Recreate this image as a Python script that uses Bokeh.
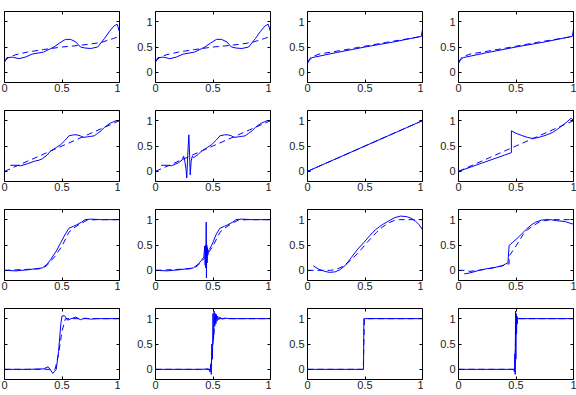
from bokeh.plotting import figure
from bokeh.layouts import column, row
from bokeh.models import Range1d, LinearAxis, FixedTicker
from bokeh.embed import file_html
from bokeh.resources import INLINE

tick_vals = [0, 0.5, 1]
tick_labels = ["0", "0.5", "1"]

# Row 1, cols 1-2
a_sx = [0, 0.02, 0.07, 0.125, 0.18, 0.24, 0.34, 0.43, 0.48, 0.53, 0.575, 0.62, 0.66, 0.7, 0.75, 0.81, 0.87, 0.91, 0.95, 0.98, 1.0]
a_sy = [0.2, 0.29, 0.3, 0.27, 0.3, 0.36, 0.4, 0.5, 0.58, 0.65, 0.65, 0.6, 0.5, 0.48, 0.47, 0.5, 0.67, 0.8, 0.91, 0.95, 0.8]
a_dx = [0, 0.04, 0.1, 0.2, 0.34, 0.5, 0.6, 0.72, 0.84, 0.95, 1.0]
a_dy = [0.22, 0.3, 0.35, 0.4, 0.45, 0.5, 0.52, 0.55, 0.59, 0.67, 0.71]

# Row 1, cols 3-4
b_sx = [0, 0.015, 0.04, 0.25, 0.5, 0.75, 0.99, 1.0]
b_sy = [0.17, 0.24, 0.29, 0.39, 0.5, 0.6, 0.71, 0.85]
b_dx = [0, 0.03, 0.1, 0.39, 0.68, 1.0]
b_dy = [0.2, 0.3, 0.36, 0.47, 0.59, 0.71]

# Row 2, col 1
c_sx = [0.05, 0.1, 0.14, 0.2, 0.26, 0.3, 0.33, 0.37, 0.4, 0.45, 0.49, 0.53, 0.56, 0.6, 0.63, 0.66, 0.68, 0.72, 0.75, 0.78, 0.81, 0.84, 0.87, 0.9, 0.92, 0.95, 0.97, 1.0]
c_sy = [0.12, 0.12, 0.11, 0.15, 0.2, 0.22, 0.25, 0.32, 0.4, 0.47, 0.53, 0.62, 0.7, 0.72, 0.72, 0.7, 0.67, 0.68, 0.69, 0.7, 0.75, 0.8, 0.87, 0.92, 0.95, 0.98, 1.0, 1.0]
c_dx = [0, 1]
c_dy = [0, 1]

# Row 2, col 2
d_sx = [0.05, 0.1, 0.14, 0.2, 0.23, 0.245, 0.255, 0.265, 0.272, 0.28, 0.29, 0.297, 0.302, 0.31, 0.32, 0.33, 0.37, 0.4, 0.45, 0.49, 0.53, 0.56, 0.6, 0.63, 0.66, 0.68, 0.72, 0.75, 0.78, 0.81, 0.84, 0.87, 0.9, 0.92, 0.95, 0.97, 1.0]
d_sy = [0.12, 0.12, 0.11, 0.17, 0.22, 0.3, 0.2, 0.05, -0.13, 0.3, 0.72, 0.3, -0.07, 0.2, 0.3, 0.27, 0.33, 0.4, 0.47, 0.53, 0.62, 0.7, 0.72, 0.72, 0.7, 0.67, 0.68, 0.69, 0.7, 0.75, 0.8, 0.87, 0.92, 0.95, 0.98, 1.0, 1.0]
d_dx = [0, 1]
d_dy = [0, 1]

# Row 2, col 3
e_sx = [0, 1]
e_sy = [0, 1]
e_dx = [0, 1]
e_dy = [0, 1]

# Row 2, col 4
f_sx = [0, 0.1, 0.2, 0.3, 0.4, 0.46, 0.46, 0.5, 0.56, 0.6, 0.64, 0.68, 0.73, 0.78, 0.82, 0.86, 0.9, 0.94, 0.98, 1.0]
f_sy = [0, 0.08, 0.16, 0.24, 0.32, 0.37, 0.8, 0.75, 0.7, 0.67, 0.65, 0.66, 0.69, 0.73, 0.77, 0.83, 0.9, 0.97, 1.05, 1.0]
f_dx = [0, 1]
f_dy = [0, 1]

# Row 3, col 1
g_sx = [0, 0.1, 0.2, 0.3, 0.33, 0.37, 0.4, 0.45, 0.49, 0.53, 0.56, 0.6, 0.63, 0.67, 0.7, 0.75, 0.84, 1.0]
g_sy = [0, -0.01, 0.01, 0.04, 0.05, 0.12, 0.21, 0.38, 0.55, 0.72, 0.83, 0.87, 0.9, 0.95, 1.0, 1.01, 1.0, 1.0]
g_dx = [0, 0.3, 0.34, 0.37, 0.44, 0.5, 0.56, 0.6, 0.66, 0.72, 0.8, 1.0]
g_dy = [0, 0.03, 0.05, 0.1, 0.28, 0.48, 0.75, 0.83, 0.92, 0.99, 1.0, 1.0]

# Row 3, col 2
h_sx = [0, 0.1, 0.2, 0.3, 0.33, 0.37, 0.4, 0.42, 0.428, 0.432, 0.435, 0.438, 0.441, 0.443, 0.446, 0.449, 0.452, 0.455, 0.46, 0.47, 0.49, 0.53, 0.56, 0.6, 0.63, 0.67, 0.7, 0.75, 0.84, 1.0]
h_sy = [0, -0.01, 0.01, 0.04, 0.05, 0.12, 0.2, 0.26, 0.48, 0.1, 0.5, 0.05, 0.95, -0.15, 0.5, 0.15, 0.45, 0.3, 0.4, 0.42, 0.5, 0.72, 0.83, 0.87, 0.9, 0.95, 1.0, 1.01, 1.0, 1.0]
h_dx = [0, 0.3, 0.34, 0.37, 0.44, 0.5, 0.56, 0.6, 0.66, 0.72, 0.8, 1.0]
h_dy = [0, 0.03, 0.05, 0.1, 0.28, 0.48, 0.75, 0.83, 0.92, 0.99, 1.0, 1.0]

# Row 3, col 3
i_sx = [0.05, 0.1, 0.15, 0.19, 0.24, 0.28, 0.33, 0.38, 0.43, 0.49, 0.54, 0.59, 0.65, 0.71, 0.76, 0.81, 0.86, 0.9, 0.94, 0.97, 1.0]
i_sy = [0.09, 0.02, -0.02, -0.04, -0.03, 0.01, 0.1, 0.25, 0.4, 0.55, 0.68, 0.8, 0.9, 0.98, 1.04, 1.07, 1.06, 1.03, 0.97, 0.9, 0.8]
i_dx = [0, 0.1, 0.2, 0.25, 0.3, 0.35, 0.4, 0.45, 0.5, 0.55, 0.6, 0.65, 0.7, 0.75, 0.8, 1.0]
i_dy = [0, 0, 0, 0.02, 0.07, 0.15, 0.25, 0.37, 0.5, 0.63, 0.75, 0.85, 0.93, 0.98, 1.0, 1.0]

# Row 3, col 4
j_sx = [0.05, 0.1, 0.18, 0.24, 0.3, 0.38, 0.43, 0.44, 0.47, 0.5, 0.55, 0.59, 0.63, 0.67, 0.72, 0.76, 0.8, 0.85, 0.9, 0.93, 0.97, 1.0]
j_sy = [-0.07, -0.05, 0, 0.03, 0.05, 0.09, 0.15, 0.49, 0.55, 0.61, 0.72, 0.81, 0.89, 0.95, 0.99, 1.0, 1.0, 0.98, 0.97, 0.96, 0.93, 0.91]
j_dx = [0, 0.05, 0.1, 0.2, 0.3, 0.4, 0.44, 0.44, 0.5, 0.56, 0.6, 0.65, 0.7, 0.75, 0.8, 0.9, 1.0]
j_dy = [0, 0, -0.02, 0.01, 0.05, 0.1, 0.13, 0.28, 0.48, 0.7, 0.8, 0.88, 0.95, 0.98, 1.0, 1.0, 1.0]

# Row 4, col 1
k_sx = [0, 0.2, 0.34, 0.38, 0.42, 0.45, 0.47, 0.49, 0.5, 0.52, 0.55, 0.58, 0.62, 0.66, 0.7, 0.75, 0.8, 0.9, 1.0]
k_sy = [0, 0, 0.01, 0.05, -0.08, 0.0, 0.35, 0.9, 1.05, 1.06, 0.97, 1.0, 1.03, 0.98, 1.01, 0.99, 1.0, 1.0, 1.0]
k_dx = [0, 0.44, 0.47, 0.5, 0.53, 1.0]
k_dy = [0, 0, 0.3, 0.75, 1.0, 1.0]

# Row 4, col 2
l_sx = [0, 0.2, 0.4, 0.46, 0.475, 0.48, 0.485, 0.49, 0.495, 0.5, 0.505, 0.51, 0.515, 0.52, 0.525, 0.53, 0.535, 0.54, 0.55, 0.56, 0.58, 0.6, 0.65, 0.7, 1.0]
l_sy = [0, 0, 0, 0.01, -0.05, 0.1, -0.1, 0.5, 0.2, 1.1, 0.6, 1.15, 0.85, 1.1, 0.9, 1.08, 0.95, 1.05, 0.98, 1.03, 0.99, 1.01, 1.0, 1.0, 1.0]
l_dx = [0, 0.48, 0.52, 1.0]
l_dy = [0, 0, 1, 1]

# Row 4, col 3
m_sx = [0, 0.487, 0.49, 1.0]
m_sy = [0, 0, 1, 1]
m_dx = [0, 0.485, 0.495, 1.0]
m_dy = [0, 0, 1, 1]

# Row 4, col 4
n_sx = [0, 0.48, 0.487, 0.49, 0.493, 0.496, 0.499, 0.502, 0.505, 0.508, 0.511, 0.515, 0.52, 1.0]
n_sy = [0, 0, -0.05, 0.3, -0.1, 1.15, 0.2, 1.1, 0.7, 1.05, 0.9, 1.02, 1.0, 1.0]
n_dx = [0, 0.49, 0.5, 1.0]
n_dy = [0, 0, 1, 1]

panels = [
    [(a_sx, a_sy, a_dx, a_dy), (a_sx, a_sy, a_dx, a_dy), (b_sx, b_sy, b_dx, b_dy), (b_sx, b_sy, b_dx, b_dy)],
    [(c_sx, c_sy, c_dx, c_dy), (d_sx, d_sy, d_dx, d_dy), (e_sx, e_sy, e_dx, e_dy), (f_sx, f_sy, f_dx, f_dy)],
    [(g_sx, g_sy, g_dx, g_dy), (h_sx, h_sy, h_dx, h_dy), (i_sx, i_sy, i_dx, i_dy), (j_sx, j_sy, j_dx, j_dy)],
    [(k_sx, k_sy, k_dx, k_dy), (l_sx, l_sy, l_dx, l_dy), (m_sx, m_sy, m_dx, m_dy), (n_sx, n_sy, n_dx, n_dy)],
]

FRAME_W, FRAME_H = 115, 71
LEFT = [4, 35, 36, 35]
RIGHT = [1, 1, 1, 3]
TOP = 11
BOTTOM = [17, 17, 17, 16]
BLUE = "#0000ff"


def style_axis(ax, show_labels, standoff):
    ax.ticker = FixedTicker(ticks=tick_vals)
    ax.major_tick_in = 3
    ax.major_tick_out = 0
    ax.minor_tick_in = 0
    ax.minor_tick_out = 0
    ax.axis_line_color = None
    ax.major_tick_line_color = "black"
    ax.major_tick_line_width = 1
    ax.major_label_text_font = "Liberation Sans"
    if show_labels:
        ax.major_label_overrides = {v: l for v, l in zip(tick_vals, tick_labels)}
        ax.major_label_text_font_size = "11px"
        ax.major_label_text_color = "#222222"
        ax.major_label_standoff = standoff
    else:
        ax.major_label_text_font_size = "0px"
        ax.major_label_text_color = None
        ax.major_label_text_alpha = 0
        ax.major_label_standoff = 0


rows = []
for r in range(4):
    figs = []
    for c in range(4):
        sx, sy, dx, dy = panels[r][c]
        w = LEFT[c] + FRAME_W + RIGHT[c]
        h = TOP + FRAME_H + BOTTOM[r]
        p = figure(width=w, height=h, x_range=Range1d(0, 1), y_range=Range1d(-0.2, 1.2),
                   output_backend="svg", toolbar_location=None,
                   min_border_left=LEFT[c], min_border_right=RIGHT[c],
                   min_border_top=TOP, min_border_bottom=BOTTOM[r])
        p.grid.visible = False
        p.outline_line_color = "black"
        p.outline_line_width = 1
        p.background_fill_color = "white"
        p.border_fill_color = "white"
        style_axis(p.xaxis[0], True, 1)
        style_axis(p.yaxis[0], c != 0, 3)
        top_ax = LinearAxis()
        style_axis(top_ax, False, 0)
        p.add_layout(top_ax, "above")
        right_ax = LinearAxis()
        style_axis(right_ax, False, 0)
        p.add_layout(right_ax, "right")
        p.line(dx, dy, line_color=BLUE, line_width=1, line_dash="6 4")
        p.line(sx, sy, line_color=BLUE, line_width=1)
        figs.append(p)
    rows.append(row(*figs))

layout = column(*rows)
open("out.html", "w").write(file_html(layout, INLINE))
